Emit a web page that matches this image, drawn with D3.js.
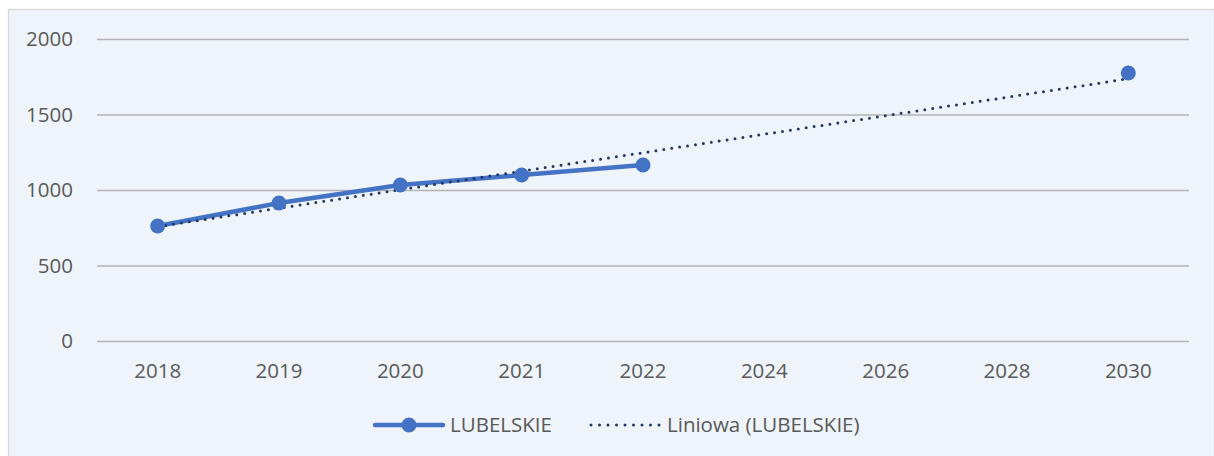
<!DOCTYPE html>
<html><head><meta charset="utf-8">
<script src="https://cdn.jsdelivr.net/npm/d3@7"></script>
<style>
html,body{margin:0;padding:0;background:#fff;}
svg{display:block;}
text{font-family:"Open Sans",sans-serif;}
</style></head>
<body>
<svg id="c" width="1214" height="456"></svg>
<script>
const categories = ["2018","2019","2020","2021","2022","2024","2026","2028","2030"];
const seriesName = "LUBELSKIE";
const seriesValues = [762, 914, 1033, 1099, 1166, null, null, null, 1775];
const trendName = "Liniowa (LUBELSKIE)";
const trendCategories = ["2018","2030"];
const trendValues = [757, 1737];
const yTicks = [0, 500, 1000, 1500, 2000];

const svg = d3.select("#c");
const W = 1214, H = 456;
const m = {left: 97, right: 1189, top: 39, bottom: 341};
const FS = "20.5px";

svg.append("rect").attr("x", 8.5).attr("y", 9.5).attr("width", W - 8).attr("height", H)
  .attr("fill", "#EFF4FB").attr("stroke", "#D9D9D9").attr("stroke-width", 1.5);

const x = d3.scaleBand().domain(categories).range([m.left, m.right]).padding(0);
const y = d3.scaleLinear().domain([0, 2000]).range([m.bottom, m.top]);
const cx = c => x(c) + x.bandwidth() / 2;

// gridlines
const yAxis = d3.axisLeft(y).tickValues(yTicks).tickSize(-(m.right - m.left)).tickPadding(24).tickFormat(d3.format("d"));
const gy = svg.append("g").attr("transform", `translate(${m.left},0)`).call(yAxis);
gy.select(".domain").remove();
gy.selectAll(".tick line").attr("stroke", "#B3B3B3").attr("stroke-width", 1.5);
gy.selectAll(".tick text").attr("fill", "#595959").style("font-size", FS);

const xAxis = d3.axisBottom(x).tickSize(0).tickPadding(22);
const gx = svg.append("g").attr("transform", `translate(0,${m.bottom})`).call(xAxis);
gx.select(".domain").remove();
gx.selectAll(".tick text").attr("fill", "#595959").style("font-size", FS);

// series line (connected only between consecutive defined values)
const pts = categories.map((c, i) => ({c, v: seriesValues[i]}));
const line = d3.line().defined(d => d.v != null).x(d => cx(d.c)).y(d => y(d.v));
svg.append("path").datum(pts).attr("d", line).attr("fill", "none")
  .attr("stroke", "#4472C4").attr("stroke-width", 4.5).attr("stroke-linejoin", "round").attr("stroke-linecap", "round");

// trendline
const tpts = trendCategories.map((c, i) => ({c, v: trendValues[i]}));
svg.append("path").datum(tpts).attr("d", d3.line().x(d => cx(d.c)).y(d => y(d.v)))
  .attr("fill", "none").attr("stroke", "#203864").attr("stroke-width", 3)
  .attr("stroke-dasharray", "0,8").attr("stroke-linecap", "round");

// markers
svg.append("g").selectAll("circle").data(pts.filter(d => d.v != null)).join("circle")
  .attr("cx", d => cx(d.c)).attr("cy", d => y(d.v)).attr("r", 7.5).attr("fill", "#4472C4");

// legend
const ly = 425;
const lg = svg.append("g");
lg.append("line").attr("x1", 375).attr("x2", 443).attr("y1", ly).attr("y2", ly)
  .attr("stroke", "#4472C4").attr("stroke-width", 4.5).attr("stroke-linecap", "round");
lg.append("circle").attr("cx", 409).attr("cy", ly).attr("r", 7.5).attr("fill", "#4472C4");
lg.append("text").attr("x", 450).attr("y", ly).attr("dy", "0.36em").attr("fill", "#595959")
  .style("font-size", FS).text(seriesName);
lg.append("line").attr("x1", 591).attr("x2", 660).attr("y1", ly).attr("y2", ly)
  .attr("stroke", "#203864").attr("stroke-width", 3).attr("stroke-dasharray", "0,8.5").attr("stroke-linecap", "round");
lg.append("text").attr("x", 667).attr("y", ly).attr("dy", "0.36em").attr("fill", "#595959")
  .style("font-size", FS).text(trendName);
</script>
</body></html>
